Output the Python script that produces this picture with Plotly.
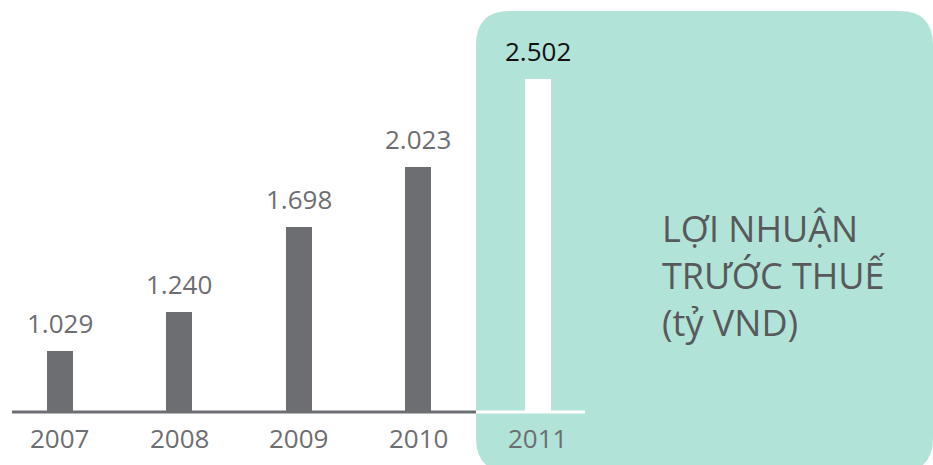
import plotly.graph_objects as go

years = ["2007", "2008", "2009", "2010", "2011"]
values = [1.029, 1.240, 1.698, 2.023, 2.502]
value_labels = ["1.029", "1.240", "1.698", "2.023", "2.502"]
title_lines = ["LỢI NHUẬN", "TRƯỚC THUẾ", "(tỷ VND)"]

W, H = 933, 465
BASE_PX = 412  # baseline pixel row (bottom of plot area)
GRAY = "#6d6e71"
TEAL = "#b2e3d8"
FONT = "Open Sans, Noto Sans, sans-serif"

y0 = 0.70
y1 = y0 + BASE_PX / 185.0

bar_colors = [GRAY] * (len(years) - 1) + ["#ffffff"]
label_colors = [GRAY] * (len(years) - 1) + ["#111111"]

fig = go.Figure()
fig.add_trace(go.Bar(x=years, y=values, marker=dict(color=bar_colors, line=dict(width=0)),
                     width=0.2176, hoverinfo="x+y"))


def px2paper(px, py):
    return px / W, (BASE_PX - py) / BASE_PX


def P(x, y):
    a, b = px2paper(x, y)
    return f"{a:.5f},{b:.5f}"


# rounded teal panel
L, T, R, B, r = 476, 11, 933, 472, 34
path = (f"M {P(L + r, T)} L {P(R - r, T)} Q {P(R, T)} {P(R, T + r)} "
        f"L {P(R, B - r)} Q {P(R, B)} {P(R - r, B)} "
        f"L {P(L + r, B)} Q {P(L, B)} {P(L, B - r)} "
        f"L {P(L, T + r)} Q {P(L, T)} {P(L + r, T)} Z")
shapes = [
    dict(type="path", xref="paper", yref="paper", path=path, fillcolor=TEAL,
         line=dict(width=0), layer="below"),
    dict(type="line", xref="paper", yref="paper", x0=12 / W, x1=476 / W, y0=0, y1=0,
         line=dict(color=GRAY, width=3), layer="above"),
    dict(type="line", xref="paper", yref="paper", x0=476 / W, x1=585 / W, y0=0, y1=0,
         line=dict(color="#ffffff", width=3), layer="above"),
]

annotations = []
for i, (yr, v, lab, c) in enumerate(zip(years, values, value_labels, label_colors)):
    annotations.append(dict(x=i, y=v, xref="x", yref="y", text=lab, showarrow=False,
                            yanchor="middle", yshift=28,
                            font=dict(family=FONT, size=26, color=c)))
    annotations.append(dict(x=i, y=0, xref="x", yref="paper", text=yr, showarrow=False,
                            yanchor="middle", yshift=-26,
                            font=dict(family=FONT, size=26, color=GRAY)))

annotations.append(dict(x=660 / W, y=(BASE_PX - 202) / BASE_PX, xref="paper", yref="paper",
                        text="<br>".join(title_lines), showarrow=False, align="left",
                        xanchor="left", yanchor="top",
                        font=dict(family=FONT, size=36, color="#58595b")))

fig.update_layout(
    width=W, height=H,
    margin=dict(l=0, r=0, t=0, b=H - BASE_PX, pad=0),
    paper_bgcolor="#ffffff", plot_bgcolor="rgba(0,0,0,0)",
    showlegend=False,
    xaxis=dict(type="category", range=[-0.502, 7.306], showgrid=False, zeroline=False,
               showticklabels=False, showline=False, fixedrange=True),
    yaxis=dict(range=[y0, y1], showgrid=False, zeroline=False, showticklabels=False,
               showline=False, fixedrange=True),
    shapes=shapes, annotations=annotations,
    bargap=0,
)

fig.write_html("out.html")
